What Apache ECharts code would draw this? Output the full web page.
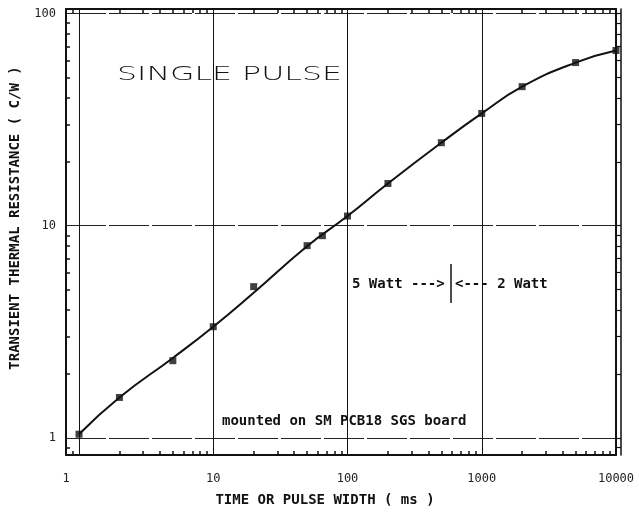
<!DOCTYPE html>
<html>
<head>
<meta charset="utf-8">
<script src="https://cdn.jsdelivr.net/npm/echarts@6/dist/echarts.min.js"></script>
<style>
    html, body { margin: 0; padding: 0; background: #fff; }
    #chart { width: 639px; height: 512px; }
</style>
</head>
<body>
<div id="chart"></div>
<script>
    // measured points (square markers)
    var pulseMs = [1, 2, 5, 10, 20, 50, 65, 100, 200, 500, 1000, 2000, 5000, 10000];
    var rthMeasured = [1.04, 1.55, 2.31, 3.34, 5.16, 8.05, 8.97, 11.1, 15.8, 24.6, 33.8, 45.2, 58.7, 66.9];
    // fitted curve
    var fitMs = [1, 2, 5, 10, 20, 50, 100, 200, 500, 1000, 2000, 5000, 10000];
    var rthFit = [1.04, 1.55, 2.38, 3.34, 4.83, 8.0, 11.1, 15.8, 24.6, 33.8, 45.2, 58.7, 66.9];
    // tick labels
    var xTickLabels = ['1', '10', '100', '1000', '10000'];
    var yTickLabels = ['1', '10', '100'];

    var mono = '"DejaVu Sans Mono"';
    var ink = '#111';

    function minorTicks(from, to, start) {
        var out = [0.9];
        for (var d = from; d < to; d *= 10) {
            for (var k = start; k < 10; k++) out.push(k * d);
        }
        return out;
    }
    var xMinor = minorTicks(1, 10000, 2);
    var yMinor = minorTicks(1, 100, 2);
    var yLadder = minorTicks(1, 100, 1).concat([100]);

    var chart = echarts.init(document.getElementById('chart'));

    var xMin = 0.8, xMax = 10000, yMin = 0.83, yMax = 105;

    var option = {
        animation: false,
        backgroundColor: '#fff',
        grid: {left: 66, right: 23, top: 9, bottom: 57},
        xAxis: [
            {
                type: 'log', min: xMin, max: xMax, position: 'bottom',
                axisLine: {show: true, lineStyle: {color: ink, width: 2}},
                axisTick: {show: false},
                splitLine: {show: true, lineStyle: {color: ink, width: 1}},
                axisLabel: {
                    margin: 18, color: '#222', fontFamily: mono, fontSize: 12,
                    showMinLabel: true, showMaxLabel: true,
                    formatter: function (v) {
                        if (v < 1) return xTickLabels[0];
                        if (v === 1) return '';
                        var i = Math.round(Math.log10(v));
                        return xTickLabels[i] || '';
                    }
                }
            },
            {
                type: 'log', min: xMin, max: xMax, position: 'top',
                axisLine: {show: true, lineStyle: {color: ink, width: 2}},
                axisTick: {show: true, inside: true, length: 4, customValues: xMinor, lineStyle: {color: ink, width: 1.5}},
                axisLabel: {show: false},
                splitLine: {show: false}
            },
            {
                type: 'log', min: xMin, max: xMax, position: 'bottom',
                axisLine: {show: false},
                axisTick: {show: true, inside: true, length: 4, customValues: xMinor, lineStyle: {color: ink, width: 1.5}},
                axisLabel: {show: false},
                splitLine: {show: false}
            }
        ],
        yAxis: [
            {
                type: 'log', min: yMin, max: yMax, position: 'left',
                axisLine: {show: true, lineStyle: {color: ink, width: 2}},
                axisTick: {show: false},
                splitLine: {show: true, lineStyle: {color: '#222', width: 1, type: [40, 3]}},
                axisLabel: {
                    margin: 10, color: '#222', fontFamily: mono, fontSize: 12,
                    formatter: function (v) {
                        var i = Math.log10(v);
                        if (Math.abs(i - Math.round(i)) > 1e-6) return '';
                        return yTickLabels[Math.round(i)] || '';
                    }
                }
            },
            {
                type: 'log', min: yMin, max: yMax, position: 'left',
                axisLine: {show: false},
                axisTick: {show: true, inside: true, length: 4, customValues: yMinor, lineStyle: {color: ink, width: 1.5}},
                axisLabel: {show: false},
                splitLine: {show: false}
            },
            {
                type: 'log', min: yMin, max: yMax, position: 'right',
                axisLine: {show: true, lineStyle: {color: ink, width: 2}},
                axisTick: {show: true, inside: false, length: 5, customValues: yLadder, lineStyle: {color: ink, width: 1.2}},
                axisLabel: {show: false},
                splitLine: {show: false}
            },
            {
                type: 'log', min: yMin, max: yMax, position: 'right', offset: 5,
                axisLine: {show: true, lineStyle: {color: ink, width: 1.5}},
                axisTick: {show: false},
                axisLabel: {show: false},
                splitLine: {show: false}
            }
        ],
        series: [
            {
                type: 'line',
                smooth: 0.5,
                showSymbol: false,
                data: fitMs.map(function (x, i) { return [x, rthFit[i]]; }),
                lineStyle: {color: ink, width: 2},
                z: 3
            },
            {
                type: 'scatter',
                symbol: 'rect',
                symbolSize: 7,
                data: pulseMs.map(function (x, i) { return [x, rthMeasured[i]]; }),
                itemStyle: {color: ink},
                z: 4
            }
        ],
        graphic: [
            {
                type: 'text', x: 117, y: 75, scaleX: 1.58,
                style: {text: 'SINGLE PULSE', font: '200 20px "DejaVu Sans"', fill: ink, verticalAlign: 'middle'}
            },
            {
                type: 'text', x: 352, y: 284,
                style: {text: '5 Watt --->', font: 'bold 14px ' + mono, fill: ink, verticalAlign: 'middle'}
            },
            {
                type: 'line',
                shape: {x1: 451, y1: 264, x2: 451, y2: 303},
                style: {stroke: ink, lineWidth: 1.5}
            },
            {
                type: 'text', x: 455, y: 284,
                style: {text: '<--- 2 Watt', font: 'bold 14px ' + mono, fill: ink, verticalAlign: 'middle'}
            },
            {
                type: 'text', x: 222, y: 421,
                style: {text: 'mounted on SM PCB18 SGS board', font: 'bold 14px ' + mono, fill: ink, verticalAlign: 'middle'}
            },
            {
                type: 'text', x: 325, y: 500,
                style: {text: 'TIME OR PULSE WIDTH ( ms )', font: 'bold 14px ' + mono, fill: ink, align: 'center', verticalAlign: 'middle'}
            },
            {
                type: 'text', x: 15, y: 218, rotation: Math.PI / 2,
                style: {text: 'TRANSIENT THERMAL RESISTANCE ( C/W )', font: 'bold 14px ' + mono, fill: ink, align: 'center', verticalAlign: 'middle'}
            }
        ]
    };
    chart.setOption(option);
</script>
</body>
</html>
